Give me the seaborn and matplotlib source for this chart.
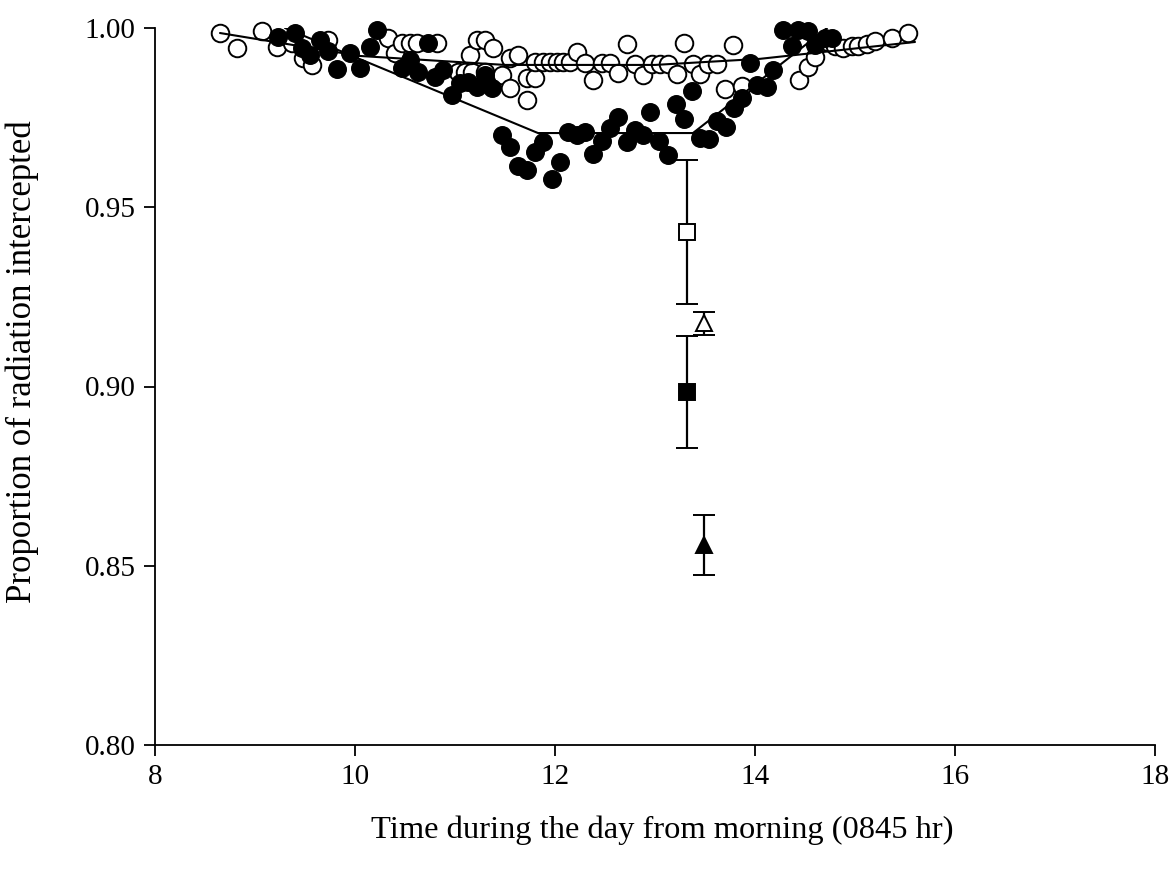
import matplotlib
matplotlib.use("Agg")
import matplotlib.pyplot as plt
import seaborn as sns
import pandas as pd

# ---- data ----
open_x = [8.65, 8.82, 9.07, 9.22, 9.37, 9.48, 9.57, 9.73, 10.33, 10.40, 10.47, 10.55, 10.62,
          10.82, 11.03, 11.10, 11.17, 11.30, 11.15, 11.22, 11.30, 11.38, 11.47, 11.55, 11.55,
          11.63, 11.72, 11.80, 11.72, 11.80, 11.88, 11.95, 12.02, 12.08, 12.15, 12.22, 12.30,
          12.38, 12.47, 12.55, 12.63, 12.72, 12.80, 12.88, 12.97, 13.05, 13.13, 13.22, 13.29,
          13.38, 13.45, 13.53, 13.62, 13.70, 13.78, 13.87, 14.44, 14.53, 14.60, 14.73, 14.80,
          14.88, 14.97, 15.03, 15.12, 15.20, 15.37, 15.53]
open_y = [0.9986, 0.9944, 0.9992, 0.9947, 0.9958, 0.9916, 0.9897, 0.9967, 0.9972, 0.9930, 0.9958,
          0.9958, 0.9958, 0.9958, 0.9877, 0.9877, 0.9877, 0.9877, 0.9925, 0.9967, 0.9967, 0.9944,
          0.9869, 0.9833, 0.9916, 0.9925, 0.9860, 0.9860, 0.9799, 0.9905, 0.9905, 0.9905, 0.9905,
          0.9905, 0.9905, 0.9933, 0.9902, 0.9855, 0.9902, 0.9902, 0.9874, 0.9955, 0.9900, 0.9869,
          0.9900, 0.9900, 0.9900, 0.9872, 0.9958, 0.9900, 0.9872, 0.9900, 0.9900, 0.9830, 0.9953,
          0.9838, 0.9855, 0.9891, 0.9919, 0.9961, 0.9950, 0.9944, 0.9950, 0.9950, 0.9955, 0.9964,
          0.9972, 0.9986]

filled_x = [9.23, 9.40, 9.47, 9.55, 9.65, 9.73, 9.82, 9.95, 10.05, 10.15, 10.22, 10.47, 10.55,
            10.63, 10.73, 10.80, 10.88, 10.97, 11.05, 11.13, 11.22, 11.30, 11.37, 11.47, 11.55,
            11.63, 11.72, 11.80, 11.88, 11.97, 12.05, 12.13, 12.22, 12.30, 12.38, 12.47, 12.55,
            12.63, 12.72, 12.80, 12.88, 12.95, 13.04, 13.13, 13.21, 13.29, 13.37, 13.45, 13.54,
            13.62, 13.71, 13.79, 13.87, 13.95, 14.02, 14.12, 14.18, 14.28, 14.37, 14.43, 14.53,
            14.60, 14.70, 14.77]
filled_y = [0.9975, 0.9986, 0.9944, 0.9925, 0.9967, 0.9936, 0.9886, 0.9930, 0.9888, 0.9947, 0.9994,
            0.9888, 0.9911, 0.9877, 0.9958, 0.9863, 0.9883, 0.9813, 0.9847, 0.9849, 0.9835, 0.9869,
            0.9833, 0.9702, 0.9668, 0.9615, 0.9604, 0.9654, 0.9682, 0.9579, 0.9626, 0.9710, 0.9702,
            0.9710, 0.9649, 0.9685, 0.9721, 0.9752, 0.9682, 0.9715, 0.9702, 0.9766, 0.9685, 0.9646,
            0.9788, 0.9746, 0.9824, 0.9693, 0.9690, 0.9741, 0.9724, 0.9777, 0.9805, 0.9902, 0.9841,
            0.9835, 0.9883, 0.9994, 0.9950, 0.9994, 0.9992, 0.9953, 0.9972, 0.9972]

# fitted lines (vertices)
open_fit_x = [8.65, 10.05, 11.50, 13.00, 14.05, 15.60]
open_fit_y = [0.9986, 0.9922, 0.9897, 0.9897, 0.9914, 0.9961]
filled_fit_x = [9.30, 11.83, 13.38, 14.72]
filled_fit_y = [1.0000, 0.9707, 0.9707, 1.0000]

# means with error bars
open_sq = (13.32, 0.9431, 0.0201)
open_tri = (13.49, 0.9177, 0.0032)
filled_sq = (13.32, 0.8985, 0.0157)
filled_tri = (13.49, 0.8558, 0.0084)

x_ticks = [8, 10, 12, 14, 16, 18]
y_ticks = [0.80, 0.85, 0.90, 0.95, 1.00]

# ---- plot ----
sns.set_theme(style="ticks")
plt.rcParams["font.family"] = ["Liberation Serif", "DejaVu Serif"]

fig = plt.figure(figsize=(11.76, 8.77), dpi=100)
ax = fig.add_axes([155/1176, 1-745/877, 1000/1176, 717/877])

open_df = pd.DataFrame({"x": open_x, "y": open_y})
filled_df = pd.DataFrame({"x": filled_x, "y": filled_y})

sns.scatterplot(data=open_df, x="x", y="y", ax=ax, marker="o", s=160,
                facecolor="white", edgecolor="black", linewidth=1.4, zorder=3, clip_on=False)
sns.scatterplot(data=filled_df, x="x", y="y", ax=ax, marker="o", s=160,
                color="black", edgecolor="black", linewidth=1.0, zorder=4, clip_on=False)

sns.lineplot(x=open_fit_x, y=open_fit_y, ax=ax, sort=False, estimator=None,
             color="black", linewidth=1.5, zorder=5)
sns.lineplot(x=filled_fit_x, y=filled_fit_y, ax=ax, sort=False, estimator=None,
             color="black", linewidth=1.5, zorder=5)

for (xv, yv, ev), mk, fc in [(open_sq, "s", "white"), (open_tri, "^", "white"),
                             (filled_sq, "s", "black"), (filled_tri, "^", "black")]:
    ax.errorbar(xv, yv, yerr=ev, fmt=mk, ms=11 if mk == "s" else 12,
                mfc=fc, mec="black", mew=1.4, ecolor="black", elinewidth=1.6,
                capsize=8, capthick=1.6, zorder=6)

ax.set_xlim(8, 18)
ax.set_ylim(0.80, 1.00)
ax.set_xticks(x_ticks)
ax.set_xticklabels([str(t) for t in x_ticks])
ax.set_yticks(y_ticks)
ax.set_yticklabels([f"{t:.2f}" for t in y_ticks])
sns.despine(ax=ax)
ax.spines["left"].set_linewidth(1.3)
ax.spines["bottom"].set_linewidth(1.3)
ax.spines["left"].set_color("black")
ax.spines["bottom"].set_color("black")
ax.tick_params(axis="both", direction="out", length=8, width=1.3, colors="black",
               labelsize=21, pad=6)
ax.set_xlabel("Time during the day from morning (0845 hr)", fontsize=23.4, color="black",
              va="center", ha="center")
ax.set_ylabel("Proportion of radiation intercepted", fontsize=25, color="black",
              va="center", ha="center")
ax.xaxis.set_label_coords(0.5075, -0.1185)
ax.yaxis.set_label_coords(-0.133, 0.534)
ax.grid(False)

fig.savefig("out.png", dpi=100, facecolor="white")
